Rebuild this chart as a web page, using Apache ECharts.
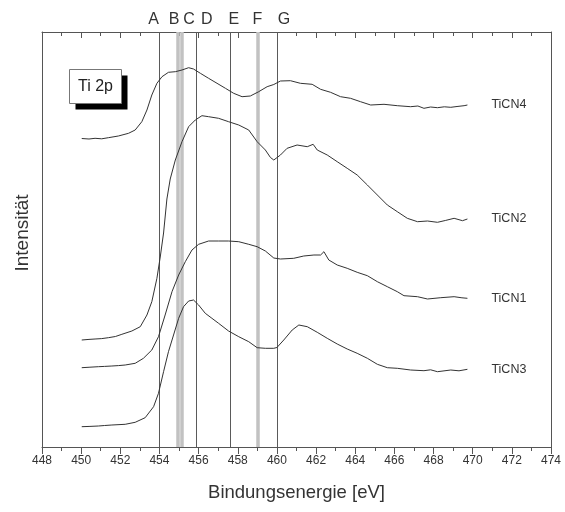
<!DOCTYPE html>
<html>
<head>
<meta charset="utf-8">
<script src="https://cdn.jsdelivr.net/npm/echarts@6/dist/echarts.min.js"></script>
<style>html,body{margin:0;padding:0;background:#fff}#c{width:565px;height:512px}</style>
</head>
<body>
<div id="c"></div>
<script>
// Data (binding energy [eV], intensity in arbitrary units)
const seriesNames = ['TiCN4', 'TiCN2', 'TiCN1', 'TiCN3'];
const ticn4 = [[450.03,308.5],[450.4,308],[450.71,308.7],[451.05,308.2],[451.39,309.3],[451.9,311],[452.42,313.7],[452.76,317],[453.1,325.3],[453.36,337],[453.61,352],[453.87,363.7],[454.13,370.3],[454.46,374.7],[454.81,375.3],[455.15,377],[455.49,379.3],[455.74,378],[456.09,373.7],[456.51,368.7],[456.94,363.7],[457.37,358.7],[457.79,353.7],[458.22,350.3],[458.64,351],[459.07,355.3],[459.5,360.3],[459.84,362.5],[460.18,366],[460.69,366.3],[461.2,363.7],[461.8,362.7],[462.23,357.7],[462.74,354.7],[463.25,350.3],[463.76,348.7],[464.27,345.3],[464.79,342],[465.47,342.7],[466.15,341.3],[466.83,340.3],[467.2,341],[467.51,338.7],[467.85,340],[468.2,339.3],[468.55,340.2],[468.88,339.7],[469.2,340.5],[469.56,341.3],[469.73,342]];
const ticn2 = [[450.03,107],[450.4,107.6],[450.71,108],[451.05,108.4],[451.39,109.3],[451.75,110.5],[452.08,112.7],[452.59,116],[453.02,120.3],[453.36,132],[453.61,145.3],[453.87,168.7],[454.04,190],[454.21,214],[454.38,248],[454.55,268],[454.81,287],[455.15,305.3],[455.49,320.3],[455.83,327],[456.17,331.3],[456.51,330.3],[457.02,328.7],[457.53,325.3],[458.05,322],[458.56,317],[458.99,305.3],[459.41,297],[459.67,289.5],[459.84,287],[459.92,287.5],[460.18,292],[460.52,298.7],[461.03,302],[461.55,300.3],[461.85,302.7],[462.06,297],[462.57,292],[463.08,285.3],[463.59,278.7],[464.1,272],[464.62,262],[465.13,252],[465.64,242],[466.15,235.3],[466.66,228.7],[467.18,225.3],[467.69,226],[468.2,224.7],[468.6,226.5],[469.05,228.7],[469.48,226.3],[469.73,228]];
const ticn1 = [[450.03,79.3],[450.45,79.8],[450.88,80.3],[451.2,80.6],[451.57,81],[451.9,81.4],[452.25,82],[452.76,83.7],[453.18,88.7],[453.61,97],[453.95,110.3],[454.29,132],[454.64,155.3],[454.98,172],[455.32,185.3],[455.66,197],[456.0,202.7],[456.51,206],[457.02,206],[457.53,206],[458.05,205.3],[458.56,202.7],[458.99,200.3],[459.41,196],[459.84,189],[460.18,188],[460.86,188.7],[461.37,191],[461.89,192],[462.23,192],[462.4,195.3],[462.65,187],[463.08,182],[463.59,178.7],[464.1,174.7],[464.62,171.3],[465.13,165.3],[465.64,160.3],[466.15,155.3],[466.49,151.3],[467.18,150.3],[467.69,148],[468.37,149.3],[469.05,150.3],[469.45,149.2],[469.73,148.7]];
const ticn3 = [[450.03,20.3],[450.45,20.6],[450.88,21],[451.2,21.5],[451.57,22],[452.25,22.7],[452.76,24.7],[453.27,29.3],[453.7,40.3],[453.95,53.7],[454.21,75.3],[454.46,95.3],[454.72,112],[454.98,128.7],[455.23,140.3],[455.49,146],[455.74,147],[456.0,142],[456.34,133.7],[456.68,128.7],[457.02,123.7],[457.53,116],[458.05,110.3],[458.56,105.3],[458.99,99.3],[459.41,98.7],[459.84,98.7],[460.0,99.5],[460.35,107],[460.78,117],[461.12,122],[461.55,120.3],[462.06,114.7],[462.57,108.7],[463.08,103],[463.59,98],[464.1,93.7],[464.62,88.7],[465.13,82.7],[465.64,79.3],[466.15,78.7],[466.83,77],[467.51,76.3],[467.85,77.2],[468.2,75.3],[468.88,77],[469.3,76.2],[469.73,77.7]];
const refLetters = ['A','B','C','D','E','F','G'];
const refEnergies = [454.0, 454.95, 455.15, 455.9, 457.6, 459.0, 460.0];
const refGray = [false, true, true, false, false, true, false];
const xMin = 448, xMax = 474, xStep = 2;
const yMin = 0, yMax = 415;

// styling only
const letterOffsets = [-6, -4, 7, 10, 4, 0, 7];
const gridBox = {left: 42, right: 14, top: 32, bottom: 65};

const chart = echarts.init(document.getElementById('c'), null, {renderer: 'canvas'});
const font = 'Liberation Sans, Arial, sans-serif';
const axisColor = '#555';

const markData = refEnergies.map((e, i) => ({
  xAxis: e,
  lineStyle: refGray[i] ? {color: '#c2c2c2', width: 3.5, type: 'solid'} : {color: '#5a5a5a', width: 1, type: 'solid'},
  label: {show: true, formatter: refLetters[i], position: 'end', distance: 4, offset: [letterOffsets[i], 0],
          color: '#333', fontSize: 16, fontFamily: font}
}));

const allData = [ticn4, ticn2, ticn1, ticn3];
const series = allData.map((d, i) => ({
  name: seriesNames[i],
  type: 'line',
  data: d,
  // first curve lives on the overlaid mirror grid (identical geometry & scales) so its top axis draws ticks
  xAxisIndex: i === 0 ? 1 : 0,
  yAxisIndex: i === 0 ? 1 : 0,
  showSymbol: false,
  symbol: 'none',
  lineStyle: {color: '#333', width: 1},
  z: 3,
  endLabel: {show: true, formatter: '{a}', distance: 24, color: '#333', fontSize: 12.5, fontFamily: font},
  animation: false,
  markLine: i === 0 ? {silent: true, symbol: 'none', animation: false, z: 1, data: markData} : undefined
}));

chart.setOption({
  animation: false,
  backgroundColor: '#fff',
  grid: [Object.assign({}, gridBox), Object.assign({}, gridBox)],
  xAxis: [{
    gridIndex: 0,
    type: 'value', min: xMin, max: xMax, interval: xStep, position: 'bottom',
    name: 'Bindungsenergie [eV]', nameLocation: 'middle', nameGap: 36,
    nameTextStyle: {fontSize: 18.5, color: '#333', fontFamily: font},
    axisLine: {show: true, onZero: false, lineStyle: {color: axisColor}},
    axisTick: {show: true, inside: false, length: 7, lineStyle: {color: axisColor}},
    minorTick: {show: true, splitNumber: 2, length: 4, lineStyle: {color: axisColor}},
    axisLabel: {fontSize: 12, color: '#333', fontFamily: font, margin: 8},
    splitLine: {show: false}
  }, {
    gridIndex: 1,
    type: 'value', min: xMin, max: xMax, interval: xStep, position: 'top',
    axisLine: {show: true, onZero: false, lineStyle: {color: axisColor}},
    axisTick: {show: true, inside: true, length: 6, lineStyle: {color: axisColor, width: 1}},
    minorTick: {show: true, splitNumber: 2, length: 4, lineStyle: {color: axisColor, width: 1}},
    axisLabel: {show: false},
    splitLine: {show: false}
  }],
  yAxis: [{
    gridIndex: 0,
    type: 'value', min: yMin, max: yMax, position: 'left',
    name: 'Intensität', nameLocation: 'middle', nameGap: 10,
    nameTextStyle: {fontSize: 19, color: '#333', fontFamily: font, padding: [0, 0, 0, 13]},
    axisLine: {show: true, onZero: false, lineStyle: {color: axisColor}},
    axisTick: {show: false}, axisLabel: {show: false}, splitLine: {show: false}
  }, {
    gridIndex: 1,
    type: 'value', min: yMin, max: yMax, position: 'right',
    axisLine: {show: true, onZero: false, lineStyle: {color: axisColor}},
    axisTick: {show: false}, axisLabel: {show: false}, splitLine: {show: false}
  }],
  graphic: [{
    type: 'group', left: 69, top: 69, children: [
      {type: 'rect', shape: {x: 6, y: 6, width: 52, height: 34}, style: {fill: '#000'}},
      {type: 'rect', shape: {x: 0, y: 0, width: 52, height: 34}, style: {fill: '#fff', stroke: '#777', lineWidth: 1}},
      {type: 'text', style: {x: 26, y: 17, text: 'Ti 2p', fontSize: 16, fontFamily: font, fill: '#222', textAlign: 'center', textVerticalAlign: 'middle'}}
    ]
  }],
  series: series
});
</script>
</body>
</html>
